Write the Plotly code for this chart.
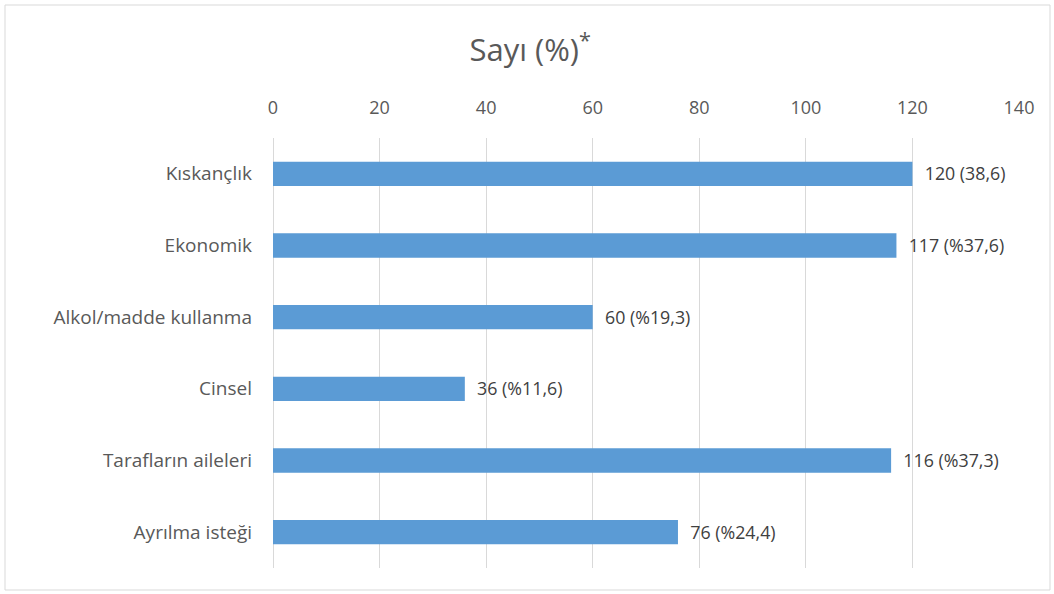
import plotly.graph_objects as go

categories = ["Kıskançlık", "Ekonomik", "Alkol/madde kullanma", "Cinsel",
              "Tarafların aileleri", "Ayrılma isteği"]
values = [120, 117, 60, 36, 116, 76]
labels = ["120 (38,6)", "117 (%37,6)", "60 (%19,3)", "36 (%11,6)",
          "116 (%37,3)", "76 (%24,4)"]
tick_vals = [0, 20, 40, 60, 80, 100, 120, 140]

font_family = "'Open Sans', Lato, sans-serif"
pad = "\u00a0\u00a0"

L, R, T, B = 273, 35, 138, 26
W, H = 1054, 594
pw, ph = W - L - R, H - T - B

fig = go.Figure(go.Bar(
    y=categories,
    x=values,
    orientation="h",
    marker=dict(color="#5B9BD5", line=dict(width=0)),
    width=0.34,
    text=[pad + t for t in labels],
    textposition="outside",
    textfont=dict(family=font_family, size=19, color="#404040"),
    cliponaxis=False,
))

fig.update_layout(
    width=W, height=H,
    margin=dict(l=L, r=R, t=T, b=B, autoexpand=False),
    paper_bgcolor="white",
    plot_bgcolor="white",
    showlegend=False,
    title=dict(text="Sayı (%)<sup>*</sup>", x=0.503, xanchor="center",
               y=1 - 50 / H, yanchor="middle",
               font=dict(family=font_family, size=31, color="#595959")),
    xaxis=dict(
        range=[0, 140], side="top", tickvals=tick_vals,
        showgrid=True, gridcolor="#d9d9d9", gridwidth=1,
        zeroline=True, zerolinecolor="#d9d9d9", zerolinewidth=1,
        showline=False, automargin=False,
        ticklabelstandoff=19,
        tickfont=dict(family=font_family, size=18, color="#595959"),
    ),
    yaxis=dict(
        categoryorder="array", categoryarray=categories[::-1],
        showgrid=False, zeroline=False, showline=False, automargin=False,
        ticklabelstandoff=20,
        tickfont=dict(family=font_family, size=19, color="#595959"),
    ),
    shapes=[dict(type="rect", xref="paper", yref="paper",
                 x0=(5 - L) / pw, x1=(1050 - L) / pw,
                 y0=((H - B) - 590) / ph, y1=((H - B) - 5) / ph,
                 line=dict(color="#d9d9d9", width=1), fillcolor="rgba(0,0,0,0)")],
)

fig.write_html("out.html",
               config={"displayModeBar": False},
               post_script="document.body.style.margin='0';document.body.style.overflow='hidden';")
